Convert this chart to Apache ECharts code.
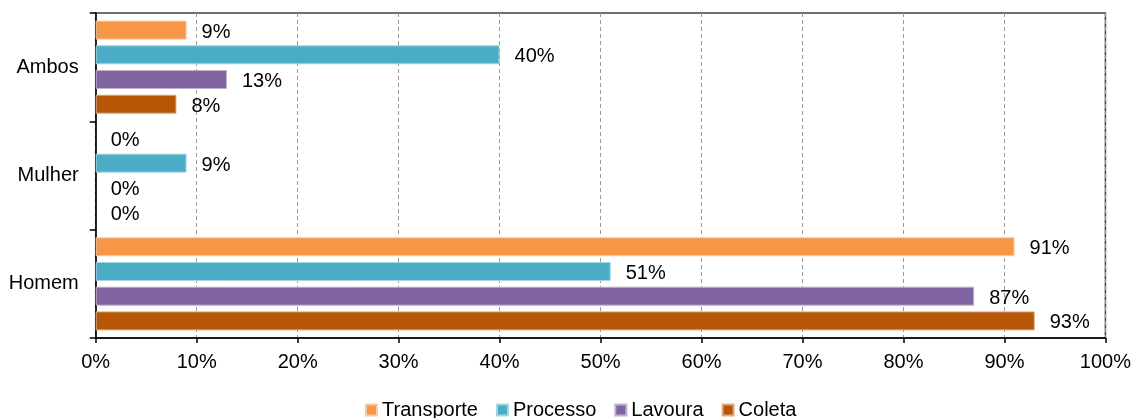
<!DOCTYPE html>
<html><head><meta charset="utf-8">
<script src="https://cdn.jsdelivr.net/npm/echarts@6/dist/echarts.min.js"></script>
<style>html,body{margin:0;padding:0;background:#fff}#c{width:1134px;height:418px}</style>
</head><body><div id="c"></div>
<script>
const categories = ['Homem', 'Mulher', 'Ambos'];
const seriesNames = ['Transporte', 'Processo', 'Lavoura', 'Coleta'];
const transporte = [91, 0, 9];
const processo = [51, 9, 40];
const lavoura = [87, 0, 13];
const coleta = [93, 0, 8];
const xTicks = [0, 10, 20, 30, 40, 50, 60, 70, 80, 90, 100];

const colors = ['#F79646', '#4BACC6', '#8064A2', '#B65708'];
const borders = ['#FAC9A0', '#A5D5E2', '#BFB1D0', '#DBAB83'];
const values = [transporte, processo, lavoura, coleta];
const FONT = 'Liberation Sans, Arial, sans-serif';
const FS = 20;

const series = seriesNames.map((n, i) => ({
  name: n, type: 'bar',
  data: values[i].map(v => v === 0 ? { value: v, itemStyle: { borderWidth: 0 } } : v),
  barWidth: 19, barGap: '30%',
  itemStyle: { color: colors[i], borderColor: borders[i], borderWidth: 1 },
  label: { show: true, position: 'right', distance: 15, offset: [0, 2],
    formatter: p => p.value + '%', color: '#000', fontSize: FS, fontFamily: FONT },
  z: 3
}));

const chart = echarts.init(document.getElementById('c'));
chart.setOption({
  animation: false,
  grid: { left: 95.7, right: 26.3, top: 13, bottom: 80, show: true, borderColor: '#404040', borderWidth: 1.5 },
  legend: {
    data: seriesNames, top: 395, left: 360, itemWidth: 11, itemHeight: 11, itemGap: 18,
    icon: 'rect', textStyle: { fontSize: FS, fontFamily: FONT, color: '#000' }
  },
  xAxis: {
    type: 'value', min: 0, max: 100, interval: 10,
    axisLine: { show: true, lineStyle: { color: '#000', width: 1.5 } },
    axisTick: { show: true, length: 5, lineStyle: { color: '#000', width: 1.5 } },
    splitLine: { show: true, lineStyle: { color: '#999', type: [4, 3], width: 1 } },
    axisLabel: { formatter: v => v + '%', color: '#000', fontSize: FS, fontFamily: FONT, margin: 14 }
  },
  yAxis: {
    type: 'category', data: categories,
    axisLine: { show: true, lineStyle: { color: '#000', width: 1.5 } },
    axisTick: { show: true, length: 6, lineStyle: { color: '#000', width: 1.5 } },
    axisLabel: { color: '#000', fontSize: FS, fontFamily: FONT, margin: 17 }
  },
  series: series
});
</script></body></html>
